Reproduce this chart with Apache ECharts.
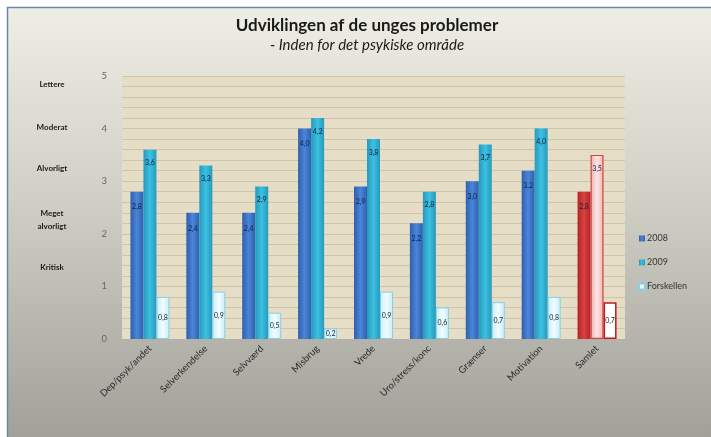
<!DOCTYPE html>
<html><head><meta charset="utf-8">
<script src="https://cdn.jsdelivr.net/npm/echarts@6/dist/echarts.min.js"></script>
<style>html,body{margin:0;padding:0;background:#fff}#c{width:711px;height:437px}</style>
</head><body><div id="c"></div>
<script>
const categories = ['Dep/psyk/andet','Selverkendelse','Selvværd','Misbrug','Vrede','Uro/stress/konc','Grænser','Motivation','Samlet'];
const v2008 = [2.8, 2.4, 2.4, 4.0, 2.9, 2.2, 3.0, 3.2, 2.8];
const v2009 = [3.6, 3.3, 2.9, 4.2, 3.8, 2.8, 3.7, 4.0, 3.5];
const vDiff = [0.8, 0.9, 0.5, 0.2, 0.9, 0.6, 0.7, 0.8, 0.7];
const seriesNames = ['2008','2009','Forskellen'];
const levelLabels = ['Lettere','Moderat','Alvorligt','Meget\nalvorligt','Kritisk'];
const levelY = [84, 127, 168, 220, 267];

function grad(a,b,c){return {type:'linear',x:0,y:0,x2:1,y2:0,colorStops:[{offset:0,color:a},{offset:0.5,color:b},{offset:1,color:c}]};}
const fmt = p => p.value.toFixed(1).replace('.',',');
const lastIdx = categories.length-1;

function mk(vals, samletStyle){
  return vals.map((v,i)=> i===lastIdx ? {value:v, itemStyle:samletStyle} : {value:v});
}

const chart = echarts.init(document.getElementById('c'), null, {renderer:'canvas'});
const graphics = [
  {type:'rect', z:-10, shape:{x:7,y:7,width:704,height:430}, style:{fill:{type:'linear',x:0,y:0,x2:0,y2:1,colorStops:[{offset:0,color:'#efeee5'},{offset:0.45,color:'#d0cfc6'},{offset:1,color:'#a2a199'}]}}},
  {type:'line', z:-9, shape:{x1:7.5,y1:7,x2:7.5,y2:437}, style:{stroke:'#6b86ad',lineWidth:1.5}},
  {type:'line', z:-9, shape:{x1:7,y1:7.5,x2:711,y2:7.5}, style:{stroke:'#6b86ad',lineWidth:1.5}}
];
levelLabels.forEach((t,i)=>graphics.push({type:'text', x:52, y:levelY[i], style:{text:t, fill:'#1a1a1a', font:'bold 8px Lato', textAlign:'center', textVerticalAlign:'middle', lineHeight:13}}));

chart.setOption({
  backgroundColor:'transparent',
  animation:false,
  graphic: graphics,
  title:{text:'Udviklingen af de unges problemer', subtext:'- Inden for det psykiske område', left:362, textAlign:'center', top:12,
    textStyle:{fontFamily:'Lato',fontWeight:'bold',fontSize:17,color:'#1a1a1a'},
    subtextStyle:{fontFamily:'Lato',fontStyle:'italic',fontSize:15,color:'#1a1a1a'}, itemGap:4},
  legend:{orient:'vertical', left:633, top:229, itemWidth:6, itemHeight:6, itemGap:15, icon:'rect',
    textStyle:{fontFamily:'Lato',fontSize:9,color:'#333',padding:[0,0,0,-3]}, data:seriesNames},
  grid:{left:122, right:86, top:76, bottom:98, show:true, backgroundColor:'#e6ddc6', borderWidth:0},
  xAxis:{type:'category', data:categories, axisTick:{show:false}, axisLine:{lineStyle:{color:'#b7b0a0'}},
    axisLabel:{rotate:45, fontFamily:'Lato', fontSize:9.5, color:'#2a2a2a', margin:8, interval:0}},
  yAxis:{type:'value', min:0, max:5, interval:1, axisLine:{show:false}, axisTick:{show:false},
    axisLabel:{fontFamily:'Lato', fontSize:9.5, color:'#666', margin:15},
    splitLine:{lineStyle:{color:'#cfc5a9'}},
    minorTick:{show:false, splitNumber:5},
    minorSplitLine:{show:true, lineStyle:{color:'#cfc5a9'}}},
  series:[
    {name:seriesNames[0], type:'bar', barWidth:13, barGap:'0%', barCategoryGap:'30%',
      itemStyle:{color:grad('#2f5faf','#4a86d8','#2f5faf')},
      label:{show:true, position:'insideTop', distance:12, fontSize:7, color:'#10203a', fontFamily:'Lato', formatter:fmt},
      data: mk(v2008, {color:grad('#b42424','#d84242','#b42424')})},
    {name:seriesNames[1], type:'bar', barWidth:13,
      itemStyle:{color:grad('#2699bb','#3dc0e2','#2699bb')},
      label:{show:true, position:'insideTop', distance:10, fontSize:7, color:'#10203a', fontFamily:'Lato', formatter:fmt},
      data: mk(v2009, {color:grad('#f3b0b0','#fde4e4','#f3b0b0'), borderColor:'#c84848', borderWidth:1.2})},
    {name:seriesNames[2], type:'bar', barWidth:13,
      itemStyle:{color:grad('#c6edf8','#f2fcff','#c6edf8'), borderColor:'#86d0e6', borderWidth:1},
      label:{show:true, position:'inside', fontSize:7, color:'#10203a', fontFamily:'Lato', formatter:fmt},
      data: mk(vDiff, {color:'#ffffff', borderColor:'#c01818', borderWidth:1.5})}
  ]
});
</script></body></html>
